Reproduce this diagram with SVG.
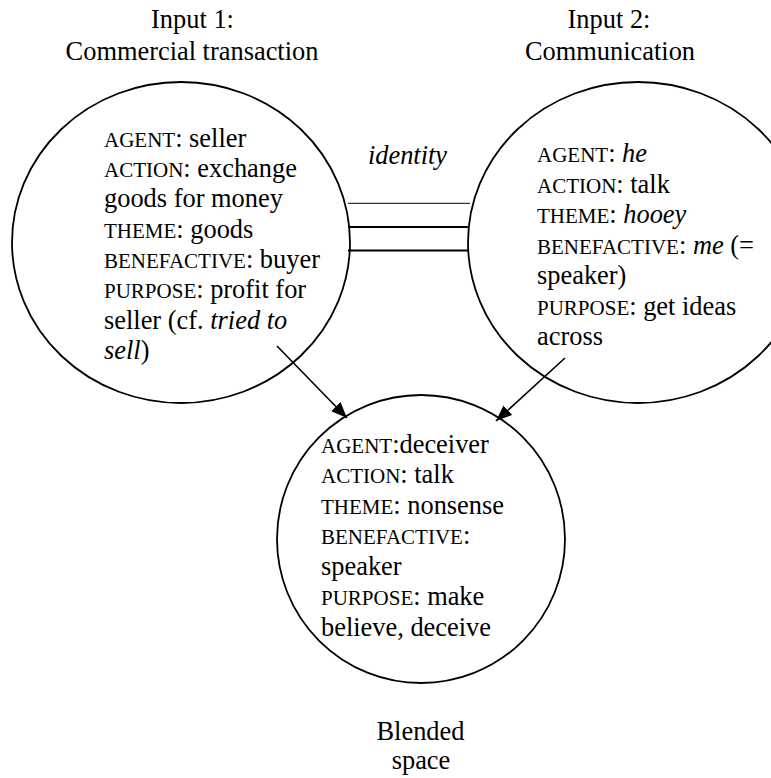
<svg xmlns="http://www.w3.org/2000/svg" width="771" height="778" viewBox="0 0 771 778" font-family="'Liberation Serif', 'Times New Roman', Tinos, 'DejaVu Serif', serif">
<style>
  text { font-family: "Liberation Serif", "Times New Roman", Tinos, "DejaVu Serif", serif; font-size: 26.4px; fill: #000; }
  .sc { font-size: 21px; }
  .it { font-style: italic; }
  .ring { fill: none; stroke: #000; stroke-width: 1.8; }
  .conn { stroke: #000; fill: none; }
</style>
<defs>
  <marker id="ah" viewBox="0 0 16 13" refX="16" refY="6.5" markerWidth="16" markerHeight="13" markerUnits="userSpaceOnUse" orient="auto">
    <path d="M0,0 L16,6.5 L0,13 Z" fill="#000"/>
  </marker>
</defs>

<g id="input1">
  <ellipse class="ring" cx="181" cy="242.5" rx="169" ry="160.5"/>
  <text x="192.5" y="28" text-anchor="middle">Input 1:</text>
  <text x="192" y="60" text-anchor="middle">Commercial transaction</text>
  <text x="104" y="146.5"><tspan class="sc">AGENT</tspan>: seller</text>
  <text x="104" y="177"><tspan class="sc">ACTION</tspan>: exchange</text>
  <text x="104" y="207">goods for money</text>
  <text x="104" y="237.5"><tspan class="sc">THEME</tspan>: goods</text>
  <text x="104" y="268"><tspan class="sc">BENEFACTIVE</tspan>: buyer</text>
  <text x="104" y="298"><tspan class="sc">PURPOSE</tspan>: profit for</text>
  <text x="104" y="328.5">seller (cf. <tspan class="it">tried to</tspan></text>
  <text x="104" y="358.5"><tspan class="it">sell</tspan>)</text>
</g>

<g id="input2">
  <ellipse class="ring" cx="638" cy="242.5" rx="170" ry="160.5"/>
  <text x="609" y="28" text-anchor="middle">Input 2:</text>
  <text x="610" y="60" text-anchor="middle">Communication</text>
  <text x="537" y="162"><tspan class="sc">AGENT</tspan>: <tspan class="it">he</tspan></text>
  <text x="537" y="192.5"><tspan class="sc">ACTION</tspan>: talk</text>
  <text x="537" y="223"><tspan class="sc">THEME</tspan>: <tspan class="it">hooey</tspan></text>
  <text x="537" y="253.5"><tspan class="sc">BENEFACTIVE</tspan>: <tspan class="it">me</tspan> (=</text>
  <text x="537" y="284">speaker)</text>
  <text x="537" y="314.5"><tspan class="sc">PURPOSE</tspan>: get ideas</text>
  <text x="537" y="345">across</text>
</g>

<g id="blend">
  <circle class="ring" cx="421" cy="539" r="144"/>
  <text x="321" y="452.5"><tspan class="sc">AGENT</tspan>:deceiver</text>
  <text x="321" y="483"><tspan class="sc">ACTION</tspan>: talk</text>
  <text x="321" y="513.5"><tspan class="sc">THEME</tspan>: nonsense</text>
  <text x="321" y="544"><tspan class="sc">BENEFACTIVE</tspan>:</text>
  <text x="321" y="574.5">speaker</text>
  <text x="321" y="605"><tspan class="sc">PURPOSE</tspan>: make</text>
  <text x="321" y="635.5">believe, deceive</text>
  <text x="420.5" y="740" text-anchor="middle">Blended</text>
  <text x="421" y="769" text-anchor="middle">space</text>
</g>

<g id="connectors">
  <line class="conn" x1="348" y1="203.3" x2="470" y2="203.3" stroke-width="1"/>
  <line class="conn" x1="348" y1="227" x2="468" y2="227" stroke-width="2"/>
  <line class="conn" x1="348" y1="250.5" x2="468" y2="250.5" stroke-width="2"/>
  <text class="it" x="407.5" y="164" text-anchor="middle">identity</text>
  <line class="conn" x1="277" y1="346" x2="347" y2="418" stroke-width="1.6" marker-end="url(#ah)"/>
  <line class="conn" x1="565" y1="358" x2="496" y2="421" stroke-width="1.6" marker-end="url(#ah)"/>
</g>
</svg>
